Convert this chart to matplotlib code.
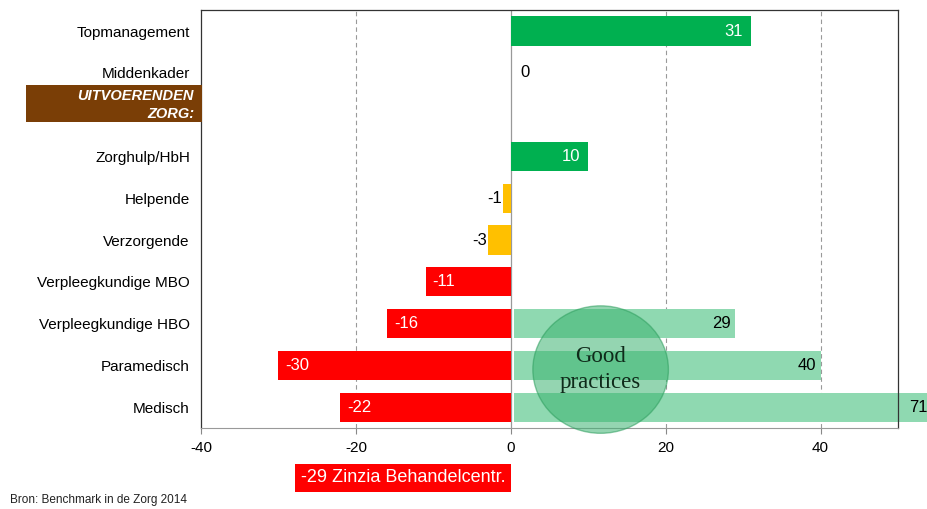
import matplotlib.pyplot as plt
from matplotlib.patches import Ellipse, Rectangle

plt.rcParams['font.family'] = ['Liberation Sans', 'DejaVu Sans']
plt.rcParams['axes.unicode_minus'] = False

# Data
categories = ["Topmanagement", "Middenkader", "", "Zorghulp/HbH", "Helpende",
              "Verzorgende", "Verpleegkundige MBO", "Verpleegkundige HBO",
              "Paramedisch", "Medisch"]
values = [31, 0, None, 10, -1, -3, -11, -16, -30, -22]
bar_colors = ["#00B050", "#00B050", None, "#00B050", "#FFC000", "#FFC000",
              "#FF0000", "#FF0000", "#FF0000", "#FF0000"]

# good practices (light green bars)
gp_categories = ["Verpleegkundige HBO", "Paramedisch", "Medisch"]
gp_values = [29, 40, 71]

fig = plt.figure(figsize=(9.28, 5.09), dpi=100)
ax = fig.add_axes([0.2166, 0.159, 0.7511, 0.821])

ypos = list(range(len(categories)))

# main bars
for y, v, c in zip(ypos, values, bar_colors):
    if v is None:
        continue
    ax.barh(y, v, height=0.7, color=c, zorder=3)
    if v > 1:
        ax.text(v - 1.0, y, str(v), color="white", ha="right", va="center", fontsize=12, zorder=5)
    elif v == 0:
        ax.text(1.2, y, "0", color="black", ha="left", va="center", fontsize=12, zorder=5)
    elif v > -5:
        ax.text(v - 0.1, y, str(v), color="black", ha="right", va="center", fontsize=12, zorder=5)
    else:
        ax.text(v + 0.9, y, str(v), color="white", ha="left", va="center", fontsize=12, zorder=5)

# good practice bars
for cat, v in zip(gp_categories, gp_values):
    y = categories.index(cat)
    ax.barh(y, v - 0.4, left=0.4, height=0.7, color="#8FD9B1", zorder=2, clip_on=False)
    if v > 50:
        ax.text(52.6, y, str(v), color="black", ha="center", va="center", fontsize=12,
                zorder=5, clip_on=False)
    else:
        ax.text(v - 0.6, y, str(v), color="black", ha="right", va="center", fontsize=12, zorder=5)

# circle
circle = Ellipse((11.6, 8.1), 17.5, 3.05, facecolor="#3CB371", edgecolor="#2E9E5E",
                 alpha=0.55, zorder=4, clip_on=False)
ax.add_patch(circle)
ax.text(11.6, 8.1, "Good\npractices", ha="center", va="center", fontsize=16.5,
        family=["Liberation Serif", "DejaVu Serif"], color="#0F2A1A", zorder=6,
        linespacing=1.3)

ax.set_xlim(-40, 50)
ax.set_ylim(len(categories) - 0.5, -0.5)
ax.set_yticks(ypos)
ax.set_yticklabels(categories, fontsize=11)
ax.tick_params(axis="y", length=0, pad=8)
ax.set_xticks([-40, -20, 0, 20, 40])
ax.tick_params(axis="x", labelsize=11, length=4, color="#888888", pad=5)

for x in [-20, 20, 40]:
    ax.axvline(x, color="#999999", linestyle=(0, (4, 3)), linewidth=0.8, zorder=1)
ax.axvline(0, color="#999999", linewidth=0.9, zorder=1)

for s in ["left", "right", "top"]:
    ax.spines[s].set_color("#333333")
    ax.spines[s].set_linewidth(0.9)
ax.spines["bottom"].set_color("#999999")

# brown section label
fig.patches.append(Rectangle((26 / 928, 1 - 122 / 509), 176 / 928, 37 / 509,
                             transform=fig.transFigure, facecolor="#7A3E06",
                             edgecolor="none", zorder=0))
fig.text(194 / 928, 1 - 105 / 509, "UITVOERENDEN\nZORG:", color="white",
         ha="right", va="center", fontsize=10.5, fontweight="bold", style="italic",
         linespacing=1.3)

# bottom annotation
fig.text(403 / 928, 1 - 478 / 509, "-29 Zinzia Behandelcentr.", color="white",
         ha="center", va="center", fontsize=13,
         bbox=dict(boxstyle="square,pad=0.3", facecolor="#FF0000", edgecolor="none"))

fig.text(10 / 928, 1 - 500 / 509, "Bron: Benchmark in de Zorg 2014", fontsize=8.5,
         ha="left", va="center", color="#222222")

fig.savefig("out.png", dpi=100)
